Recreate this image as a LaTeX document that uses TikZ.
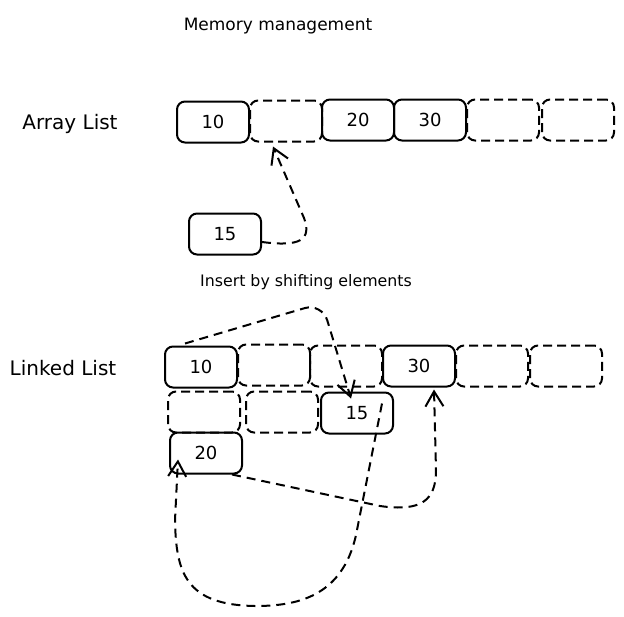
\documentclass[tikz,border=0pt]{standalone}
\usepackage{fontspec}
\setmainfont{DejaVu Sans}
\usetikzlibrary{arrows.meta}

\tikzset{
  cell/.style={draw,rounded corners=8pt,line width=2pt,minimum width=72pt,minimum height=41pt,inner sep=0pt,font=\fontsize{18}{20}\selectfont},
  free/.style={cell,dash pattern=on 9pt off 5pt},
  arr/.style={line width=2pt,dash pattern=on 9pt off 6pt,-{Straight Barb[length=15pt,width=18pt]}},
  lbl/.style={anchor=base,font=\fontsize{20}{24}\selectfont}
}

\begin{document}
\begin{tikzpicture}[x=1pt,y=-1pt]
\useasboundingbox (0,0) rectangle (624,616);

\node[lbl,font=\fontsize{17}{20}\selectfont] (title) at (278,30) {Memory management};

\node[lbl] (alist) at (70,129) {Array List};

\node[cell] (a1) at (213,122) {10};
\node[free] (a2) at (286,121) {};
\node[cell] (a3) at (358,120) {20};
\node[cell] (a4) at (430,120) {30};
\node[free] (a5) at (503,120) {};
\node[free] (a6) at (578,120) {};

\node[cell] (a15) at (225,234) {15};

\draw[arr] ([yshift=-8pt]a15.east) .. controls (300,247) and (312,240) .. (304,218) -- ([xshift=-13pt,yshift=-4pt]a2.south);

\node[lbl,font=\fontsize{15.8}{18}\selectfont] (shift) at (306,286) {Insert by shifting elements};

\node[lbl] (llist) at (63,375) {Linked List};

\node[cell] (l1) at (201,367) {10};
\node[free] (l2) at (274,365) {};
\node[free] (l3) at (346,366) {};
\node[cell] (l4) at (419,366) {30};
\node[free] (l5) at (492,366) {};
\node[free] (l6) at (566,366) {};

\node[free] (m1) at (204,412) {};
\node[free] (m2) at (282,412) {};
\node[cell] (l15) at (357,413) {15};
\node[cell] (l20) at (206,453) {20};

\draw[arr,rounded corners=18pt] ([xshift=-16pt,yshift=2pt]l1.north) -- (322,303) -- ([xshift=-6pt,yshift=-7pt]l15.north);

\draw[arr] ([xshift=26pt]l20.south) -- (380,506) .. controls (422,512) and (436,500) .. (436,470) -- ([xshift=15pt,yshift=-2pt]l4.south);

\draw[arr] ([xshift=25pt,yshift=-12pt]l15.north) -- (356,535) .. controls (342,598) and (295,606) .. (255,606) .. controls (185,605) and (176,572) .. (175,520) -- ([shift={(9pt,15pt)}]l20.south west);

\end{tikzpicture}
\end{document}
